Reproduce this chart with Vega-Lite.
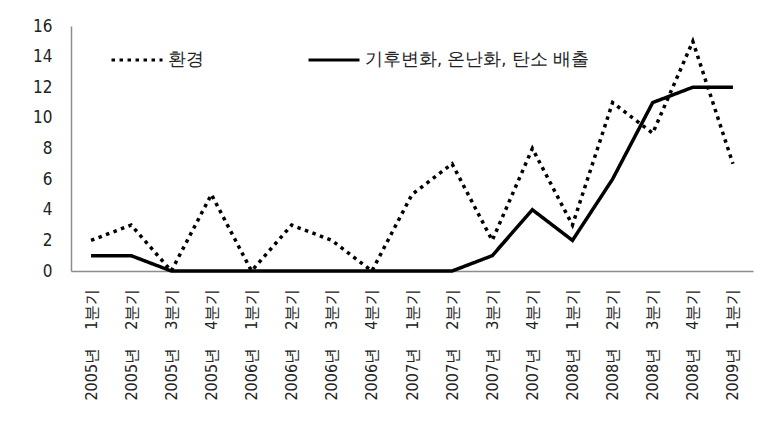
{
  "$schema": "https://vega.github.io/schema/vega-lite/v6.json",
  "autosize": {"type": "none"},
  "padding": {"left": 71, "top": 26, "right": 14, "bottom": 159},
  "width": 682,
  "height": 245,
  "background": "white",
  "config": {
    "view": {"stroke": null},
    "font": "DejaVu Sans Condensed"
  },
  "data": {
    "values": [
      {"q": "2005년 1분기", "s": "환경", "v": 2},
      {"q": "2005년 2분기", "s": "환경", "v": 3},
      {"q": "2005년 3분기", "s": "환경", "v": 0},
      {"q": "2005년 4분기", "s": "환경", "v": 5},
      {"q": "2006년 1분기", "s": "환경", "v": 0},
      {"q": "2006년 2분기", "s": "환경", "v": 3},
      {"q": "2006년 3분기", "s": "환경", "v": 2},
      {"q": "2006년 4분기", "s": "환경", "v": 0},
      {"q": "2007년 1분기", "s": "환경", "v": 5},
      {"q": "2007년 2분기", "s": "환경", "v": 7},
      {"q": "2007년 3분기", "s": "환경", "v": 2},
      {"q": "2007년 4분기", "s": "환경", "v": 8},
      {"q": "2008년 1분기", "s": "환경", "v": 3},
      {"q": "2008년 2분기", "s": "환경", "v": 11},
      {"q": "2008년 3분기", "s": "환경", "v": 9},
      {"q": "2008년 4분기", "s": "환경", "v": 15},
      {"q": "2009년 1분기", "s": "환경", "v": 7},
      {"q": "2005년 1분기", "s": "기후변화, 온난화, 탄소 배출", "v": 1},
      {"q": "2005년 2분기", "s": "기후변화, 온난화, 탄소 배출", "v": 1},
      {"q": "2005년 3분기", "s": "기후변화, 온난화, 탄소 배출", "v": 0},
      {"q": "2005년 4분기", "s": "기후변화, 온난화, 탄소 배출", "v": 0},
      {"q": "2006년 1분기", "s": "기후변화, 온난화, 탄소 배출", "v": 0},
      {"q": "2006년 2분기", "s": "기후변화, 온난화, 탄소 배출", "v": 0},
      {"q": "2006년 3분기", "s": "기후변화, 온난화, 탄소 배출", "v": 0},
      {"q": "2006년 4분기", "s": "기후변화, 온난화, 탄소 배출", "v": 0},
      {"q": "2007년 1분기", "s": "기후변화, 온난화, 탄소 배출", "v": 0},
      {"q": "2007년 2분기", "s": "기후변화, 온난화, 탄소 배출", "v": 0},
      {"q": "2007년 3분기", "s": "기후변화, 온난화, 탄소 배출", "v": 1},
      {"q": "2007년 4분기", "s": "기후변화, 온난화, 탄소 배출", "v": 4},
      {"q": "2008년 1분기", "s": "기후변화, 온난화, 탄소 배출", "v": 2},
      {"q": "2008년 2분기", "s": "기후변화, 온난화, 탄소 배출", "v": 6},
      {"q": "2008년 3분기", "s": "기후변화, 온난화, 탄소 배출", "v": 11},
      {"q": "2008년 4분기", "s": "기후변화, 온난화, 탄소 배출", "v": 12},
      {"q": "2009년 1분기", "s": "기후변화, 온난화, 탄소 배출", "v": 12}
    ]
  },
  "mark": {"type": "line", "strokeWidth": 3.5, "strokeCap": "butt", "color": "black"},
  "encoding": {
    "x": {
      "field": "q",
      "type": "ordinal",
      "sort": null,
      "scale": {"type": "point", "padding": 0.5},
      "axis": {
        "title": null,
        "labelAngle": -90,
        "labelAlign": "right",
        "labelBaseline": "middle",
        "labelPadding": 17,
        "labelFontSize": 16,
        "labelColor": "#222",
        "labelLimit": 200,
        "labelExpr": "replace(datum.label, ' ', '\u00a0\u00a0\u00a0\u00a0')",
        "ticks": false,
        "domainColor": "#8c8c8c",
        "domainWidth": 1.5,
        "grid": false
      }
    },
    "y": {
      "field": "v",
      "type": "quantitative",
      "scale": {"domain": [0, 16]},
      "axis": {
        "title": null,
        "values": [0, 2, 4, 6, 8, 10, 12, 14, 16],
        "labelFontSize": 17,
        "labelColor": "#222",
        "labelPadding": 19,
        "ticks": false,
        "grid": false,
        "domainColor": "#8c8c8c",
        "domainWidth": 1.5
      }
    },
    "strokeDash": {
      "field": "s",
      "type": "nominal",
      "scale": {"domain": ["환경", "기후변화, 온난화, 탄소 배출"], "range": [[3.5, 4.5], [1, 0]]},
      "legend": {
        "title": null,
        "orient": "none",
        "legendX": 39,
        "legendY": 7,
        "direction": "horizontal",
        "symbolType": "stroke",
        "symbolSize": 2600,
        "symbolStrokeWidth": 3,
        "symbolStrokeColor": "black",
        "labelFontSize": 18,
        "labelColor": "#222",
        "labelOffset": 4,
        "columnPadding": 98,
        "labelLimit": 400
      }
    }
  }
}
